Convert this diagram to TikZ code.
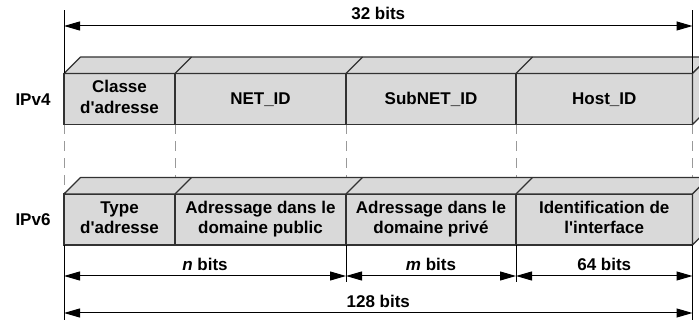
\documentclass[tikz,border=0pt]{standalone}
\usepackage{fontspec}
\setmainfont{Liberation Sans}
\usetikzlibrary{arrows.meta,backgrounds}
\definecolor{cellgray}{RGB}{217,217,217}
\definecolor{edgegray}{RGB}{50,50,50}
% invisible struts so every text line has a fixed height and depth
\newcommand\lstrut{\rule[-4pt]{0pt}{16.5pt}}
\newcommand\onestrut{\rule[-4pt]{0pt}{19pt}}
\begin{document}
\begin{tikzpicture}[x=1pt,y=-1pt,
  lbl/.style={font=\bfseries\fontsize{17}{20.5}\selectfont, inner sep=0pt},
  cell/.style={lbl, draw=edgegray, line width=1.2pt, fill=cellgray, align=center,
    minimum height=51pt, outer sep=0pt},
  face/.style={draw=edgegray, line width=1.2pt, fill=cellgray, line join=round},
  edge/.style={draw=edgegray, line width=1.2pt},
  guide/.style={draw=black!40, line width=0.6pt, dash pattern=on 10pt off 7pt},
  dim/.style={draw=black, line width=1pt,
    {Triangle[length=16pt,width=9pt]}-{Triangle[length=16pt,width=9pt]}},
  ext/.style={draw=black, line width=1pt}]
\useasboundingbox (0,0) rectangle (699,320);
\clip (0,0) rectangle (699,320);

% ---- IPv4 fields (front faces)
\node[cell, minimum width=111pt]   (v4a) at (119.5,99)  {\lstrut Classe\\\lstrut d\textquotesingle adresse};
\node[cell, minimum width=171pt]   (v4b) at (260.5,99)  {\onestrut NET\_ID};
\node[cell, minimum width=170pt]   (v4c) at (431,99)    {\onestrut SubNET\_ID};
\node[cell, minimum width=176.5pt] (v4d) at (604.25,99) {\onestrut Host\_ID};

% ---- IPv6 fields (front faces)
\node[cell, minimum width=111pt]   (v6a) at (119.5,219.5)  {\lstrut Type\\\lstrut d\textquotesingle adresse};
\node[cell, minimum width=171pt]   (v6b) at (260.5,219.5)  {\lstrut Adressage dans le\\\lstrut domaine public};
\node[cell, minimum width=170pt]   (v6c) at (431,219.5)    {\lstrut Adressage dans le\\\lstrut domaine priv\'e};
\node[cell, minimum width=176.5pt] (v6d) at (604.25,219.5) {\lstrut Identification de\\\lstrut l\textquotesingle interface};

% ---- top and side faces of both bars
\foreach \r in {v4,v6}{
  \draw[face] (\r a.north west) -- ++(16.5,-16.5) -- ([shift={(16.5,-16.5)}]\r d.north east)
    -- (\r d.north east) -- cycle;
  \draw[face] (\r d.north east) -- ++(16.5,-16.5) -- ++(0,51) -- (\r d.south east) -- cycle;
  \foreach \c in {b,c,d}
    \draw[edge] (\r\c.north west) -- ++(16.5,-16.5);
}

% ---- dashed guides between the two bars
\begin{scope}[on background layer]
  \draw[guide] (v4a.south west) -- (v6a.north west);
  \draw[guide] (v4b.south west) -- (v6b.north west);
  \draw[guide] (v4c.south west) -- (v6c.north west);
  \draw[guide] (v4d.south west) -- (v6d.north west);
  \draw[guide] (v4d.south east) -- (v6d.north east);
\end{scope}

% ---- row labels
\node[lbl, anchor=base] (l4) at (33,105.7)  {IPv4};
\node[lbl, anchor=base] (l6) at (33,225.7)  {IPv6};

% ---- 32-bit span
\draw[ext] (v4a.north west) -- ++(0,-63.5);
\draw[ext] (v4d.north east) -- ++(0,-63.5);
\coordinate (t0) at (v4a.north west |- 0,26);
\coordinate (t1) at (v4d.north east |- 0,26);
\draw[dim] (t0) -- (t1) node[midway, lbl, anchor=base, yshift=6pt] (w32) {32 bits};

% ---- IPv6 spans
\draw[ext] (v6a.south west) -- ++(0,75);
\draw[ext] (v6b.south east) -- ++(0,37);
\draw[ext] (v6c.south east) -- ++(0,37);
\draw[ext] (v6d.south east) -- ++(0,75);
\coordinate (s0) at (v6a.south west |- 0,276);
\coordinate (s1) at (v6b.south east |- 0,276);
\coordinate (s2) at (v6c.south east |- 0,276);
\coordinate (s3) at (v6d.south east |- 0,276);
\draw[dim] (s0) -- (s1) node[midway, lbl, anchor=base, yshift=5.5pt] (wn) {\textit{n} bits};
\draw[dim] (s1) -- (s2) node[midway, lbl, anchor=base, yshift=5.5pt] (wm) {\textit{m} bits};
\draw[dim] (s2) -- (s3) node[midway, lbl, anchor=base, yshift=5.5pt] (w64) {64 bits};
\coordinate (u0) at (v6a.south west |- 0,313);
\coordinate (u1) at (v6d.south east |- 0,313);
\draw[dim] (u0) -- (u1) node[midway, lbl, anchor=base, yshift=5.5pt] (w128) {128 bits};
\end{tikzpicture}
\end{document}
